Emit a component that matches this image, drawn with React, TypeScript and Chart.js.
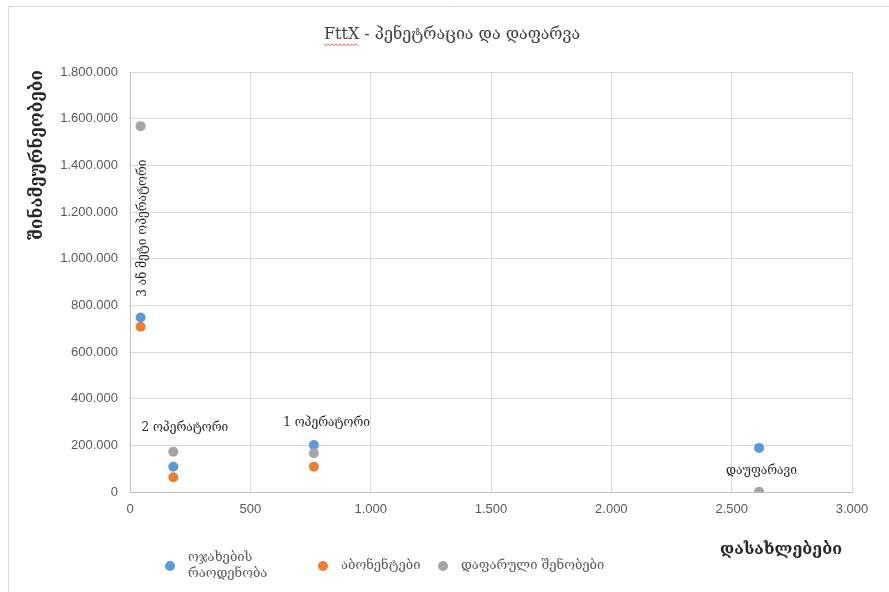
import React, { useEffect, useRef } from "react";
import { Chart, registerables } from "chart.js";

Chart.register(...registerables);

// ---- data ----
const chartTitle = "FttX - პენეტრაცია და დაფარვა";
const xAxisTitle = "დასახლებები";
const yAxisTitle = "შინამეურნეობები";

const seriesNames = ["ოჯახების რაოდენობა", "აბონენტები", "დაფარული შენობები"];
const legendLines = [["ოჯახების", "რაოდენობა"], ["აბონენტები"], ["დაფარული შენობები"]];
const seriesColors = ["#5B9BD5", "#ED7D31", "#A5A5A5"];

// x = settlements (დასახლებები) per group
const groupSettlements = [44, 180, 764, 2614];
const households = [748000, 108000, 201000, 189000];
const subscribers = [708000, 63000, 108000, 0];
const coveredBuildings = [1568000, 173000, 166000, 0];

// annotation labels (anchored in data space)
const annotationTexts = ["3 ან მეტი ოპერატორი", "2 ოპერატორი", "1 ოპერატორი", "დაუფარავი"];
const annotationX = [52, 228, 817, 2624];
const annotationY = [1131000, 274000, 296000, 91000];
const annotationRotated = [true, false, false, false];

const xMin = 0, xMax = 3000, xStep = 500;
const yMin = 0, yMax = 1800000, yStep = 200000;

function fmt(v: number): string {
  const s = Math.round(v).toString();
  return s.replace(/\B(?=(\d{3})+(?!\d))/g, ".");
}

const GEO_FONT = "'DejaVu Serif', 'DejaVu Sans', serif";
const NUM_FONT = "'Liberation Sans', Arial, sans-serif";

const decorPlugin = {
  id: "decor",
  afterDraw(chart: any) {
    const ctx = chart.ctx as CanvasRenderingContext2D;
    const xs = chart.scales.x;
    const ys = chart.scales.y;
    ctx.save();
    // outer chart border
    ctx.strokeStyle = "#d9d9d9";
    ctx.lineWidth = 1;
    ctx.beginPath();
    ctx.moveTo(8.5, 600);
    ctx.lineTo(8.5, 6.5);
    ctx.lineTo(900, 6.5);
    ctx.stroke();

    // title
    ctx.fillStyle = "#404040";
    ctx.font = `16px ${GEO_FONT}`;
    ctx.textAlign = "center";
    ctx.textBaseline = "middle";
    const tx = 452, ty = 35;
    ctx.fillText(chartTitle, tx, ty);
    // spell-check squiggle under "FttX"
    const fullW = ctx.measureText(chartTitle).width;
    const fW = ctx.measureText("FttX").width;
    const sx = tx - fullW / 2;
    ctx.strokeStyle = "#e06666";
    ctx.lineWidth = 1;
    ctx.beginPath();
    for (let i = 0; i <= fW; i += 2) {
      const yy = ty + 9 + (i % 4 === 0 ? 0 : 1.5);
      if (i === 0) ctx.moveTo(sx + i, yy);
      else ctx.lineTo(sx + i, yy);
    }
    ctx.stroke();

    // y axis title
    ctx.save();
    ctx.translate(38, 155);
    ctx.rotate(-Math.PI / 2);
    ctx.fillStyle = "#262626";
    ctx.font = `bold 17px ${GEO_FONT}`;
    ctx.textAlign = "center";
    ctx.textBaseline = "middle";
    ctx.fillText(yAxisTitle, 0, 0);
    ctx.restore();

    // x axis title
    ctx.fillStyle = "#262626";
    ctx.font = `bold 16px ${GEO_FONT}`;
    ctx.textAlign = "center";
    ctx.textBaseline = "middle";
    ctx.fillText(xAxisTitle, 781, 550);

    // annotations
    ctx.fillStyle = "#262626";
    ctx.font = `12px ${GEO_FONT}`;
    annotationTexts.forEach((t, i) => {
      const px = xs.getPixelForValue(annotationX[i]);
      const py = ys.getPixelForValue(annotationY[i]);
      ctx.save();
      ctx.translate(px, py);
      if (annotationRotated[i]) ctx.rotate(-Math.PI / 2);
      ctx.textAlign = "center";
      ctx.textBaseline = "middle";
      ctx.fillText(t, 0, 0);
      ctx.restore();
    });

    // legend
    const legendDotX = [170, 323, 443];
    const legendY = 566;
    ctx.font = `13px ${GEO_FONT}`;
    ctx.textAlign = "left";
    ctx.textBaseline = "middle";
    chart.data.datasets.forEach((ds: any, i: number) => {
      ctx.fillStyle = ds.backgroundColor;
      ctx.beginPath();
      ctx.arc(legendDotX[i], legendY, 5, 0, Math.PI * 2);
      ctx.fill();
      ctx.fillStyle = "#595959";
      const lines = legendLines[i];
      const lh = 16;
      const y0 = legendY - ((lines.length - 1) * lh) / 2;
      lines.forEach((ln, j) => ctx.fillText(ln, legendDotX[i] + 18, y0 + j * lh));
    });
    ctx.restore();
  },
};

function App() {
  const ref = useRef<HTMLCanvasElement | null>(null);
  useEffect(() => {
    if (!ref.current) return;
    const mk = (ys: number[]) => groupSettlements.map((x, i) => ({ x, y: ys[i] }));
    const chart = new Chart(ref.current, {
      type: "scatter",
      data: {
        datasets: [
          { label: seriesNames[0], data: mk(households), backgroundColor: seriesColors[0], borderColor: seriesColors[0], pointRadius: 5, borderWidth: 0, order: 3 },
          { label: seriesNames[1], data: mk(subscribers), backgroundColor: seriesColors[1], borderColor: seriesColors[1], pointRadius: 5, borderWidth: 0, order: 2 },
          { label: seriesNames[2], data: mk(coveredBuildings), backgroundColor: seriesColors[2], borderColor: seriesColors[2], pointRadius: 5, borderWidth: 0, order: 1 },
        ],
      },
      options: {
        animation: false,
        responsive: false,
        devicePixelRatio: 1,
        layout: { padding: { left: 0, top: 72, right: 37, bottom: 0 } },
        plugins: { legend: { display: false }, title: { display: false }, tooltip: { enabled: false } },
        scales: {
          x: {
            type: "linear",
            min: xMin,
            max: xMax,
            afterFit: (s: any) => { s.height = 100; },
            ticks: { stepSize: xStep, padding: 10, color: "#595959", font: { family: NUM_FONT, size: 13 }, callback: (v: any) => fmt(Number(v)) },
            grid: { color: "#d9d9d9", drawTicks: false },
            border: { color: "#bfbfbf" },
          },
          y: {
            type: "linear",
            min: yMin,
            max: yMax,
            afterFit: (s: any) => { s.width = 130; },
            ticks: { stepSize: yStep, padding: 12, color: "#595959", font: { family: NUM_FONT, size: 13 }, callback: (v: any) => fmt(Number(v)) },
            grid: { color: "#d9d9d9", drawTicks: false },
            border: { color: "#bfbfbf" },
          },
        },
      },
      plugins: [decorPlugin],
    } as any);
    return () => chart.destroy();
  }, []);
  return (
    <div style={{ position: "absolute", left: 0, top: 0, width: 889, height: 592, background: "#fff" }}>
      <canvas ref={ref} width={889} height={592} style={{ display: "block" }} />
    </div>
  );
}

export default App;
